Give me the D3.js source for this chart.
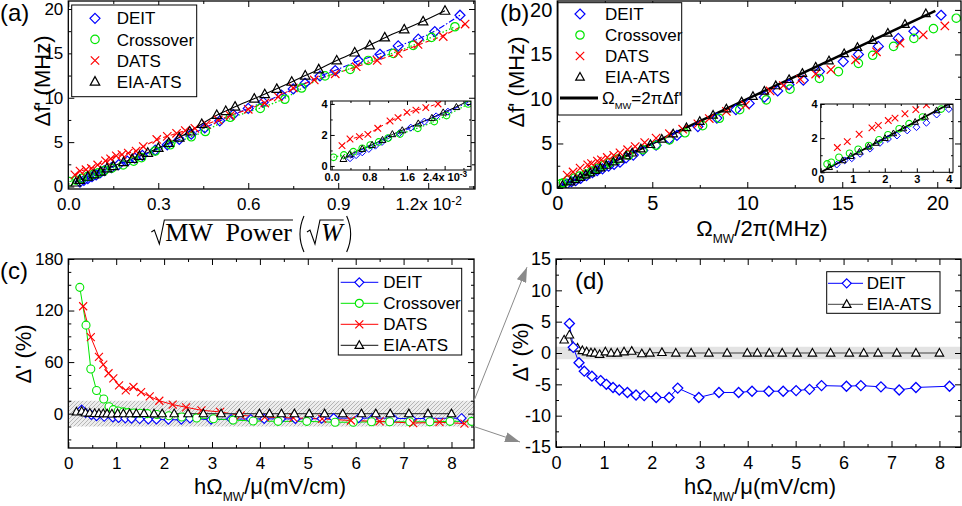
<!DOCTYPE html>
<html>
<head>
<meta charset="utf-8">
<script src="https://cdn.jsdelivr.net/npm/d3@7"></script>
<style>
  body { margin: 0; background: #fff; }
  svg { display: block; }
</style>
</head>
<body>
<script>
// ---------- (a) splitting vs sqrt(MW power); x in 1e-2 sqrt(W), y in MHz ----------
const aDeitX = [0.039,0.052,0.065,0.079,0.093,0.107,0.120,0.144,0.168,0.197,0.222,0.247,0.290,0.330,0.370,0.410,0.455,0.505,0.550,0.600,0.650,0.711,0.750,0.789,0.839,0.890,0.967,1.039,1.100,1.167,1.222,1.306];
const aDeitY = [0.50,0.70,0.88,1.10,1.31,1.55,1.78,2.12,2.47,2.86,3.20,3.50,4.10,4.70,5.30,5.90,6.60,7.40,8.10,8.80,9.50,10.30,11.00,11.63,12.45,13.06,14.20,14.90,15.84,16.60,17.45,19.30];
const aCrossX = [0.004,0.026,0.046,0.065,0.082,0.100,0.120,0.145,0.183,0.218,0.244,0.290,0.340,0.410,0.457,0.540,0.640,0.722,0.778,0.856,0.940,1.000,1.084,1.150,1.211,1.289];
const aCrossY = [0.56,0.71,0.92,1.14,1.35,1.55,1.80,2.06,2.43,2.86,3.25,4.00,4.70,5.60,6.20,7.80,8.80,9.83,11.10,12.46,13.20,14.20,15.00,15.90,16.80,18.00];
const aDatsX = [0.022,0.039,0.059,0.077,0.098,0.124,0.141,0.160,0.179,0.200,0.226,0.250,0.295,0.330,0.361,0.390,0.422,0.460,0.500,0.540,0.600,0.655,0.700,0.750,0.820,0.890,0.960,1.030,1.100,1.166,1.250,1.323];
const aDatsY = [1.31,1.74,1.89,2.04,2.43,2.90,3.12,3.46,3.60,3.76,4.00,4.50,5.30,5.65,6.00,6.30,6.56,7.00,7.50,8.00,8.70,9.40,10.10,11.10,12.00,12.70,13.50,14.20,15.00,16.00,16.90,18.30];
const aEiaX = [0.025,0.038,0.065,0.086,0.108,0.129,0.150,0.184,0.213,0.237,0.265,0.300,0.335,0.370,0.405,0.445,0.495,0.525,0.556,0.620,0.655,0.695,0.745,0.790,0.835,0.895,0.955,1.005,1.055,1.120,1.183,1.256];
const aEiaY = [0.45,0.75,1.10,1.36,1.68,2.05,2.30,2.74,3.10,3.45,3.80,4.35,4.90,5.50,6.20,7.05,8.06,8.50,9.00,9.90,10.40,11.00,11.80,12.50,13.20,14.20,15.10,15.90,16.80,17.70,18.60,19.80];

// ---------- (b) splitting vs Omega_MW/2pi, both in MHz ----------
const bDeitX = [0.50,0.75,0.97,1.23,1.54,1.85,2.10,2.38,2.70,2.99,3.30,3.62,4.00,4.50,5.20,5.90,6.30,7.40,8.40,9.40,10.10,10.90,11.60,12.20,12.95,13.80,15.05,15.85,16.90,17.95,18.77,20.20];
const bDeitY = [0.45,0.70,0.82,1.08,1.38,1.72,1.95,2.15,2.45,2.64,2.90,3.38,3.70,4.20,4.80,5.50,5.90,6.90,7.85,8.80,9.50,10.20,10.90,11.60,12.10,13.07,14.20,15.00,15.90,16.80,17.60,19.40];
const bCrossX = [0.20,0.33,0.57,0.90,1.17,1.50,1.82,2.10,2.45,2.76,3.18,3.76,4.50,5.20,5.90,6.72,7.65,8.53,9.60,11.00,12.25,13.80,14.80,15.85,16.60,17.70,18.77,19.80,21.00];
const bCrossY = [0.49,0.59,0.88,1.11,1.35,1.57,1.90,2.20,2.55,2.85,3.24,3.70,4.30,4.80,5.40,6.20,7.00,7.83,8.80,9.90,11.10,12.30,13.07,14.00,14.90,15.90,16.80,17.90,19.07];
const bDatsX = [0.52,0.83,1.20,1.60,1.80,2.11,2.32,2.63,2.97,3.30,3.70,4.10,4.60,5.20,5.90,6.60,7.40,8.00,8.90,9.90,11.20,11.90,12.80,13.60,14.40,15.70,16.80,18.04,19.26,20.40];
const bDatsY = [1.45,1.80,2.23,2.60,2.75,3.03,3.17,3.43,3.67,3.95,4.30,4.65,5.10,5.60,6.10,6.60,7.20,7.80,8.60,9.30,10.90,11.50,12.20,12.80,13.30,14.40,15.30,16.26,17.20,18.20];
const bEiaX = [0.27,0.69,0.94,1.21,1.49,1.73,2.01,2.27,2.58,2.95,3.26,3.62,3.94,4.40,4.90,5.50,6.10,6.80,7.50,8.20,8.90,9.70,10.30,10.90,11.50,12.20,12.90,13.60,14.30,15.10,15.80,16.60,17.40,18.30,19.40];
const bEiaY = [0.30,0.70,0.95,1.20,1.50,1.72,2.00,2.28,2.57,2.95,3.25,3.63,3.95,4.40,4.90,5.50,6.10,6.80,7.50,8.20,8.90,9.70,10.30,10.90,11.50,12.20,12.90,13.60,14.30,15.10,15.80,16.60,17.40,18.40,19.60];
const theoryX = [0, 19.9];
const theoryY = [0, 19.9];

// ---------- (c),(d) relative deviation (%) vs h*Omega/mu (mV/cm) ----------
const hDeitX = [0.28,0.36,0.48,0.59,0.75,0.93,1.05,1.19,1.32,1.49,1.67,1.84,2.09,2.36,2.54,2.98,3.40,3.81,4.09,4.44,4.74,5.01,5.29,5.54,6.06,6.36,6.78,7.16,7.51,8.21];
const hDeitY = [4.7,0.9,-1.55,-2.9,-3.7,-4.4,-5.0,-5.5,-5.9,-6.3,-6.7,-6.8,-7.1,-7.1,-5.6,-7.1,-6.3,-6.3,-6.1,-6.1,-6.1,-6.0,-5.8,-5.2,-5.3,-5.2,-5.4,-5.9,-5.5,-5.3];
const hEiaX = [0.17,0.28,0.36,0.45,0.55,0.64,0.73,0.81,0.91,1.03,1.15,1.28,1.42,1.58,1.79,1.96,2.21,2.50,2.82,3.19,3.57,3.99,4.20,4.45,4.72,5.03,5.35,5.73,6.12,6.42,6.72,7.11,7.51,8.00];
const hEiaY = [2.1,2.9,1.0,0.8,0.4,0.2,0.05,0.0,-0.2,0.2,0.0,0.0,0.2,0.3,-0.1,0.0,0.1,0.0,0.0,0.0,0.0,0.0,0.0,0.0,0.0,0.0,0.0,0.0,0.0,0.0,0.0,0.0,0.0,0.0];
const cCrossX = [0.24,0.37,0.47,0.59,0.74,0.85,0.94,1.04,1.15,1.25,1.37,1.50,1.65,1.85,2.10,2.37,2.68,3.03,3.44,3.86,4.38,4.98,5.57,5.95,6.33,6.71,7.13,7.55,7.97,8.42];
const cCrossY = [147,103,52,27,17,8,4.7,3,2,1.2,0.8,0.4,0,-1,-2.5,-4,-5,-6,-7.5,-8.5,-9,-9,-10,-10,-9.5,-9.5,-9.5,-9.5,-9,-9];
const cDatsX = [0.31,0.47,0.64,0.73,0.84,0.94,1.06,1.20,1.36,1.52,1.70,1.90,2.18,2.46,2.78,3.17,3.60,4.10,4.70,5.30,5.90,6.50,7.20,7.75,8.27];
const cDatsY = [125,89,66,57,47,41,33,27,31,25,20,15,10.5,7.4,3.9,2,-2,-4,-5,-6,-8,-9,-11,-10,-11.5];
const cBand = [-15, 15];
const dBand = [-1, 1];

const SANS = "'Liberation Sans', Arial, Helvetica, sans-serif";
const SERIF = "'Liberation Serif', 'Times New Roman', serif";
const BLUE = "#0000ff", GREEN = "#00e600", RED = "#ff0000", BLACK = "#000000", DGREY = "#404040";

const svg = d3.select("body").append("svg").attr("width", 962).attr("height", 506);
const defs = svg.append("defs");
let clipCount = 0;

function symPath(type, s) {
  if (type === "diamond") return `M0,${-s}L${s},0L0,${s}L${-s},0Z`;
  if (type === "circle") return `M${s},0A${s},${s} 0 1,1 ${-s},0A${s},${s} 0 1,1 ${s},0Z`;
  if (type === "cross") return `M${-s},${-s}L${s},${s}M${-s},${s}L${s},${-s}`;
  return `M0,${-s}L${s * 0.95},${s * 0.7}L${-s * 0.95},${s * 0.7}Z`;
}

function makePanel(xDom, xRange, yDom, yRange, whiteBg) {
  const x = d3.scaleLinear().domain(xDom).range(xRange);
  const y = d3.scaleLinear().domain(yDom).range(yRange);
  const id = "clip" + clipCount++;
  defs.append("clipPath").attr("id", id).append("rect")
    .attr("x", xRange[0]).attr("y", yRange[1])
    .attr("width", xRange[1] - xRange[0]).attr("height", yRange[0] - yRange[1]);
  const g = svg.append("g");
  if (whiteBg) g.append("rect").attr("x", xRange[0]).attr("y", yRange[1])
    .attr("width", xRange[1] - xRange[0]).attr("height", yRange[0] - yRange[1]).attr("fill", "#fff");
  const plot = g.append("g").attr("clip-path", `url(#${id})`);
  return { x, y, g, plot };
}

function points(p, xs, ys, type, size, color, fill, sw) {
  p.plot.append("g").selectAll("path").data(d3.zip(xs, ys)).join("path")
    .attr("d", symPath(type, size))
    .attr("transform", d => `translate(${p.x(d[0])},${p.y(d[1])})`)
    .attr("fill", fill || "none").attr("stroke", color).attr("stroke-width", sw || 1.2);
}

function curve(p, xs, ys, color, width, dash, smooth) {
  const line = d3.line().x(d => p.x(d[0])).y(d => p.y(d[1]))
    .curve(smooth ? d3.curveBasis : d3.curveLinear);
  p.plot.append("path").datum(d3.zip(xs, ys)).attr("d", line)
    .attr("fill", "none").attr("stroke", color).attr("stroke-width", width)
    .attr("stroke-dasharray", dash || null);
}

function axes(p, o) {
  const [L, R] = p.x.range(), [B, T] = p.y.range();
  const maj = o.maj || 6, mnr = o.mnr || 3;
  const none = () => "";
  const style = sel => {
    sel.select(".domain").remove();
    sel.selectAll(".tick line").attr("stroke", "#000").attr("stroke-width", 1);
    sel.selectAll("text").attr("font-size", o.fs).attr("font-family", SANS)
      .attr("font-weight", o.bold ? "bold" : null).attr("fill", "#000");
  };
  const add = (axis, tx, ty, vals, len, fmt, pad) => p.g.append("g")
    .attr("transform", `translate(${tx},${ty})`)
    .call(axis.tickValues(vals).tickSize(-len).tickPadding(pad || 0).tickFormat(fmt || none))
    .call(style);
  const bottom = add(d3.axisBottom(p.x), 0, B, o.xMaj, maj, o.xFmt, o.xPad);
  add(d3.axisBottom(p.x), 0, B, o.xMin, mnr);
  add(d3.axisTop(p.x), 0, T, o.xMaj, maj);
  add(d3.axisTop(p.x), 0, T, o.xMin, mnr);
  const left = add(d3.axisLeft(p.y), L, 0, o.yMaj, maj, o.yFmt, o.yPad);
  add(d3.axisLeft(p.y), L, 0, o.yMin, mnr);
  add(d3.axisRight(p.y), R, 0, o.yMaj, maj);
  add(d3.axisRight(p.y), R, 0, o.yMin, mnr);
  p.g.append("rect").attr("x", L).attr("y", T).attr("width", R - L).attr("height", B - T)
    .attr("fill", "none").attr("stroke", "#000").attr("stroke-width", o.fw || 1.3);
  return { bottom, left };
}

// write text made of parts: [string, "sub" | "sup" | undefined]
function richText(t, parts, fs) {
  let shift = 0;
  parts.forEach(([s, kind]) => {
    const span = t.append("tspan").text(s);
    let target = kind === "sub" ? 0.3 * fs : kind === "sup" ? -0.45 * fs : 0;
    if (target !== shift) span.attr("dy", target - shift);
    if (kind) span.attr("font-size", fs * 0.55);
    shift = target;
  });
  return t;
}

function label(x, y, parts, fs, anchor, rotate) {
  const t = svg.append("text").attr("font-family", SANS).attr("font-size", fs)
    .attr("text-anchor", anchor || "start").attr("fill", "#000");
  if (rotate) t.attr("transform", `translate(${x},${y}) rotate(-90)`);
  else t.attr("x", x).attr("y", y);
  return richText(t, parts, fs);
}

function legend(o) {
  const g = svg.append("g");
  g.append("rect").attr("x", o.x).attr("y", o.y).attr("width", o.w).attr("height", o.h)
    .attr("fill", "#fff").attr("stroke", "#000").attr("stroke-width", 1);
  o.items.forEach((it, i) => {
    const cy = o.row0 + i * o.dy;
    if (it.line) g.append("line").attr("x1", o.lx[0]).attr("x2", o.lx[1]).attr("y1", cy).attr("y2", cy)
      .attr("stroke", it.lineColor || it.color).attr("stroke-width", it.lw || 1);
    if (it.type) g.append("path").attr("d", symPath(it.type, it.size))
      .attr("transform", `translate(${o.sx},${cy})`)
      .attr("fill", o.fill || "none").attr("stroke", it.color).attr("stroke-width", 1.2);
    const t = g.append("text").attr("x", it.tx || o.tx).attr("y", cy).attr("dy", "0.36em")
      .attr("font-family", SANS).attr("font-size", o.fs).attr("fill", "#000");
    richText(t, it.label, o.fs);
  });
}

const fmt1 = d => d.toFixed(1);
const fmt0 = d => String(d);

// ================= panel (a) =================
const pa = makePanel([0, 1.356], [68.3, 475], [-0.28, 20.9], [189, 1]);
curve(pa, aEiaX, aEiaY, BLACK, 1.1, null, true);
curve(pa, aDeitX, aDeitY, BLUE, 1.1, "6,2,1.5,2", true);
curve(pa, aDatsX, aDatsY, RED, 1.1, "5,3", true);
curve(pa, aCrossX, aCrossY, GREEN, 1.3, "1.5,2", true);
points(pa, aDeitX, aDeitY, "diamond", 5, BLUE);
points(pa, aCrossX, aCrossY, "circle", 4.2, GREEN);
points(pa, aDatsX, aDatsY, "cross", 4.2, RED);
points(pa, aEiaX, aEiaY, "triangle", 5, BLACK);
const aAx = axes(pa, {
  xMaj: [0, 0.3, 0.6, 0.9, 1.2], xMin: [0.15, 0.45, 0.75, 1.05, 1.35],
  yMaj: [0, 5, 10, 15, 20], yMin: [2.5, 7.5, 12.5, 17.5],
  xFmt: fmt1, yFmt: fmt0, fs: 17, xPad: 9, yPad: 5
});
aAx.bottom.selectAll(".tick text").filter(d => d === 1.2).text("1.2x 10")
  .append("tspan").attr("dy", "-0.45em").attr("font-size", "0.7em").text("-2");

// inset of (a): same data, low-power end (x labels in 1e-3)
const pai = makePanel([-0.002, 0.296], [330.7, 471], [-0.26, 4.19], [170, 101], true);
curve(pai, aEiaX, aEiaY, BLACK, 1, null, true);
curve(pai, aDeitX, aDeitY, BLUE, 1, "5,2,1.5,2", true);
curve(pai, aDatsX, aDatsY, RED, 1, "4,3", true);
curve(pai, aCrossX, aCrossY, GREEN, 1.2, "1.5,2", true);
points(pai, aDeitX, aDeitY, "diamond", 3.5, BLUE, null, 1);
points(pai, aCrossX, aCrossY, "circle", 3.3, GREEN, null, 1.1);
points(pai, aDatsX, aDatsY, "cross", 3.3, RED, null, 1.1);
points(pai, aEiaX, aEiaY, "triangle", 3.6, BLACK, null, 1);
const aiAx = axes(pai, {
  xMaj: [0, 0.08, 0.16, 0.24], xMin: [0.04, 0.12, 0.2, 0.28],
  yMaj: [0, 2, 4], yMin: [1, 3],
  xFmt: d => (d * 10).toFixed(1), yFmt: fmt0, fs: 11, bold: true, xPad: 3, yPad: 3, maj: 4, mnr: 2, fw: 1
});
aiAx.bottom.selectAll(".tick text").filter(d => d === 0.24).text("2.4x 10")
  .append("tspan").attr("dy", "-0.45em").attr("font-size", "0.75em").text("-3");

legend({
  x: 71.7, y: 5, w: 125, h: 91.7, row0: 18.3, dy: 21.1, sx: 95, tx: 116.7, fs: 17,
  items: [
    { label: [["DEIT"]], type: "diamond", size: 5, color: BLUE },
    { label: [["Crossover"]], type: "circle", size: 4.2, color: GREEN },
    { label: [["DATS"]], type: "cross", size: 4.2, color: RED },
    { label: [["EIA-ATS"]], type: "triangle", size: 5, color: BLACK }
  ]
});

// ================= panel (b) =================
const pb = makePanel([0, 21.25], [557.3, 961], [0, 21.0], [188, 1]);
curve(pb, theoryX, theoryY, BLACK, 2.5);
points(pb, bDeitX, bDeitY, "diamond", 5, BLUE);
points(pb, bCrossX, bCrossY, "circle", 4.2, GREEN);
points(pb, bDatsX, bDatsY, "cross", 4.2, RED);
points(pb, bEiaX, bEiaY, "triangle", 4.5, BLACK);
axes(pb, {
  xMaj: [0, 5, 10, 15, 20], xMin: [2.5, 7.5, 12.5, 17.5],
  yMaj: [0, 5, 10, 15, 20], yMin: [2.5, 7.5, 12.5, 17.5],
  xFmt: fmt0, yFmt: fmt0, fs: 20, xPad: 8, yPad: 5
});

const pbi = makePanel([0, 4.13], [820.7, 953], [0, 4], [172.3, 104], true);
curve(pbi, theoryX, theoryY, BLACK, 1.8);
points(pbi, bDeitX, bDeitY, "diamond", 3.4, BLUE, null, 1);
points(pbi, bCrossX, bCrossY, "circle", 3.3, GREEN, null, 1.1);
points(pbi, bDatsX, bDatsY, "cross", 3.3, RED, null, 1.1);
points(pbi, bEiaX, bEiaY, "triangle", 3.4, BLACK, null, 1);
axes(pbi, {
  xMaj: [0, 1, 2, 3, 4], xMin: [0.5, 1.5, 2.5, 3.5],
  yMaj: [0, 2, 4], yMin: [1, 3],
  xFmt: fmt0, yFmt: fmt0, fs: 11, bold: true, xPad: 3, yPad: 3, maj: 4, mnr: 2, fw: 1
});

legend({
  x: 558, y: 2.7, w: 123.7, h: 112.3, row0: 14, dy: 21, sx: 580, tx: 605, fs: 17, lx: [560, 598],
  items: [
    { label: [["DEIT"]], type: "diamond", size: 5, color: BLUE },
    { label: [["Crossover"]], type: "circle", size: 4.2, color: GREEN },
    { label: [["DATS"]], type: "cross", size: 4.2, color: RED },
    { label: [["EIA-ATS"]], type: "triangle", size: 4.5, color: BLACK },
    { label: [["Ω"], ["MW", "sub"], ["=2πΔf'"]], line: true, lw: 3, color: BLACK, tx: 602 }
  ]
});

// ================= panel (c) =================
const hatch = defs.append("pattern").attr("id", "hatch").attr("patternUnits", "userSpaceOnUse")
  .attr("width", 4).attr("height", 4);
hatch.append("rect").attr("width", 4).attr("height", 4).attr("fill", "#ededed");
hatch.append("path").attr("d", "M-1,1 l2,-2 M0,4 l4,-4 M3,5 l2,-2")
  .attr("stroke", "#a8a8a8").attr("stroke-width", 0.8);

const pc = makePanel([0, 8.47], [68.3, 474], [-40, 180], [448, 259]);
pc.plot.append("rect").attr("x", pc.x(0)).attr("width", pc.x(8.47) - pc.x(0))
  .attr("y", pc.y(cBand[1])).attr("height", pc.y(cBand[0]) - pc.y(cBand[1]))
  .attr("fill", "url(#hatch)");
curve(pc, hDeitX, hDeitY, BLUE, 1);
curve(pc, cCrossX, cCrossY, GREEN, 1);
curve(pc, cDatsX, cDatsY, RED, 1);
curve(pc, hEiaX, hEiaY, DGREY, 1.2);
points(pc, hDeitX, hDeitY, "diamond", 4.5, BLUE, "#fff", 1.1);
points(pc, cCrossX, cCrossY, "circle", 4, GREEN, "#fff", 1.1);
points(pc, cDatsX, cDatsY, "cross", 4, RED, null, 1.1);
points(pc, hEiaX, hEiaY, "triangle", 4.5, BLACK, "#fff", 1.1);
axes(pc, {
  xMaj: d3.range(0, 9), xMin: d3.range(0.5, 8.5, 1),
  yMaj: [0, 60, 120, 180], yMin: [-30, -15, 15, 30, 45, 75, 90, 105, 135, 150, 165],
  xFmt: fmt0, yFmt: fmt0, fs: 17, xPad: 9, yPad: 5
});
legend({
  x: 338.3, y: 268.3, w: 123.4, h: 86.7, row0: 282.3, dy: 21, sx: 359.3, tx: 383.3, fs: 17,
  lx: [340.7, 378.3], fill: "#fff",
  items: [
    { label: [["DEIT"]], type: "diamond", size: 4.5, color: BLUE, line: true },
    { label: [["Crossover"]], type: "circle", size: 4, color: GREEN, line: true },
    { label: [["DATS"]], type: "cross", size: 4, color: RED, line: true },
    { label: [["EIA-ATS"]], type: "triangle", size: 4.5, color: BLACK, line: true, lineColor: DGREY, lw: 1.2 }
  ]
});

// ================= panel (d) =================
const pd = makePanel([0, 8.45], [556, 961], [-15, 15], [447, 259]);
pd.plot.append("rect").attr("x", pd.x(0)).attr("width", pd.x(8.45) - pd.x(0))
  .attr("y", pd.y(dBand[1])).attr("height", pd.y(dBand[0]) - pd.y(dBand[1]))
  .attr("fill", "#e3e3e3");
curve(pd, hEiaX, hEiaY, DGREY, 1.1);
curve(pd, hDeitX, hDeitY, BLUE, 1);
points(pd, hEiaX, hEiaY, "triangle", 4.5, BLACK, "#fff", 1.1);
points(pd, hDeitX, hDeitY, "diamond", 5, BLUE, "#fff", 1.3);
axes(pd, {
  xMaj: d3.range(0, 9), xMin: d3.range(0.5, 8.5, 1),
  yMaj: [-15, -10, -5, 0, 5, 10, 15], yMin: [-12.5, -7.5, -2.5, 2.5, 7.5, 12.5],
  xFmt: fmt0, yFmt: fmt0, fs: 18, xPad: 9, yPad: 5
});
legend({
  x: 826.7, y: 271.7, w: 113.3, h: 41.6, row0: 283.3, dy: 21, sx: 846.7, tx: 866.7, fs: 17,
  lx: [828, 863], fill: "#fff",
  items: [
    { label: [["DEIT"]], type: "diamond", size: 4.5, color: BLUE, line: true },
    { label: [["EIA-ATS"]], type: "triangle", size: 4.5, color: BLACK, line: true, lineColor: DGREY }
  ]
});

// zoom arrows from the band of (c) to (d)
defs.append("marker").attr("id", "arrow").attr("markerUnits", "userSpaceOnUse")
  .attr("markerWidth", 15).attr("markerHeight", 10).attr("refX", 15).attr("refY", 5)
  .attr("orient", "auto").append("path").attr("d", "M0,0L15,5L0,10Z").attr("fill", "#8a8a8a");
const arrows = [
  [[pc.x(8.47), pc.y(cBand[1])], [pd.x(0) - 29, pd.y(13.7)]],
  [[pc.x(8.47), pc.y(cBand[0])], [pd.x(0) - 36, pd.y(-14.2)]]
];
svg.append("g").selectAll("line").data(arrows).join("line")
  .attr("x1", d => d[0][0]).attr("y1", d => d[0][1])
  .attr("x2", d => d[1][0]).attr("y2", d => d[1][1])
  .attr("stroke", "#8a8a8a").attr("stroke-width", 1).attr("marker-end", "url(#arrow)");

// ================= titles =================
label(0, 21, [["(a)"]], 24);
label(500, 21, [["(b)"]], 24);
label(0, 279, [["(c)"]], 24);
label(575, 289, [["(d)"]], 24);

label(50, 81, [["Δf' (MHz)"]], 22, "middle", true);
label(524, 82, [["Δf' (MHz)"]], 22, "middle", true);
label(31, 354, [["Δ' (%)"]], 22, "middle", true);
label(528, 352, [["Δ' (%)"]], 22, "middle", true);

label(762, 236, [["Ω"], ["MW", "sub"], ["/2π(MHz)"]], 22, "middle");
label(270, 494, [["hΩ"], ["MW", "sub"], ["/μ(mV/cm)"]], 22, "middle");
label(760, 494, [["hΩ"], ["MW", "sub"], ["/μ(mV/cm)"]], 22, "middle");

// (a) x title: sqrt(MW Power)(sqrt(W)) drawn with radical paths
(function sqrtTitle() {
  const g = svg.append("g").attr("font-family", SERIF).attr("font-size", 26).attr("fill", "#000");
  const rad = (x0, w) => `M${x0},-9L${x0 + 3},-11L${x0 + 8},3L${x0 + 13},-21H${x0 + 13 + w}`;
  const stroke = sel => sel.attr("fill", "none").attr("stroke", "#000").attr("stroke-width", 1.1);
  const t1 = g.append("text").attr("x", 14).attr("y", 0).style("white-space", "pre").text("MW  Power");
  const w1 = t1.node().getComputedTextLength();
  g.append("path").attr("d", rad(0, w1 + 2)).call(stroke);
  let x = 14 + w1 + 5;
  g.append("path").attr("d", `M${x + 7},-25Q${x - 1},-7 ${x + 7},11`).call(stroke);
  x += 10;
  const t2 = g.append("text").attr("x", x + 14).attr("y", 0).attr("font-style", "italic").text("W");
  const w2 = t2.node().getComputedTextLength();
  g.append("path").attr("d", rad(x, w2 + 2)).call(stroke);
  x += 14 + w2 + 4;
  g.append("path").attr("d", `M${x},-25Q${x + 8},-7 ${x},11`).call(stroke);
  const bb = g.node().getBBox();
  g.attr("transform", `translate(${251 - bb.x - bb.width / 2},241)`);
})();
</script>
</body>
</html>
